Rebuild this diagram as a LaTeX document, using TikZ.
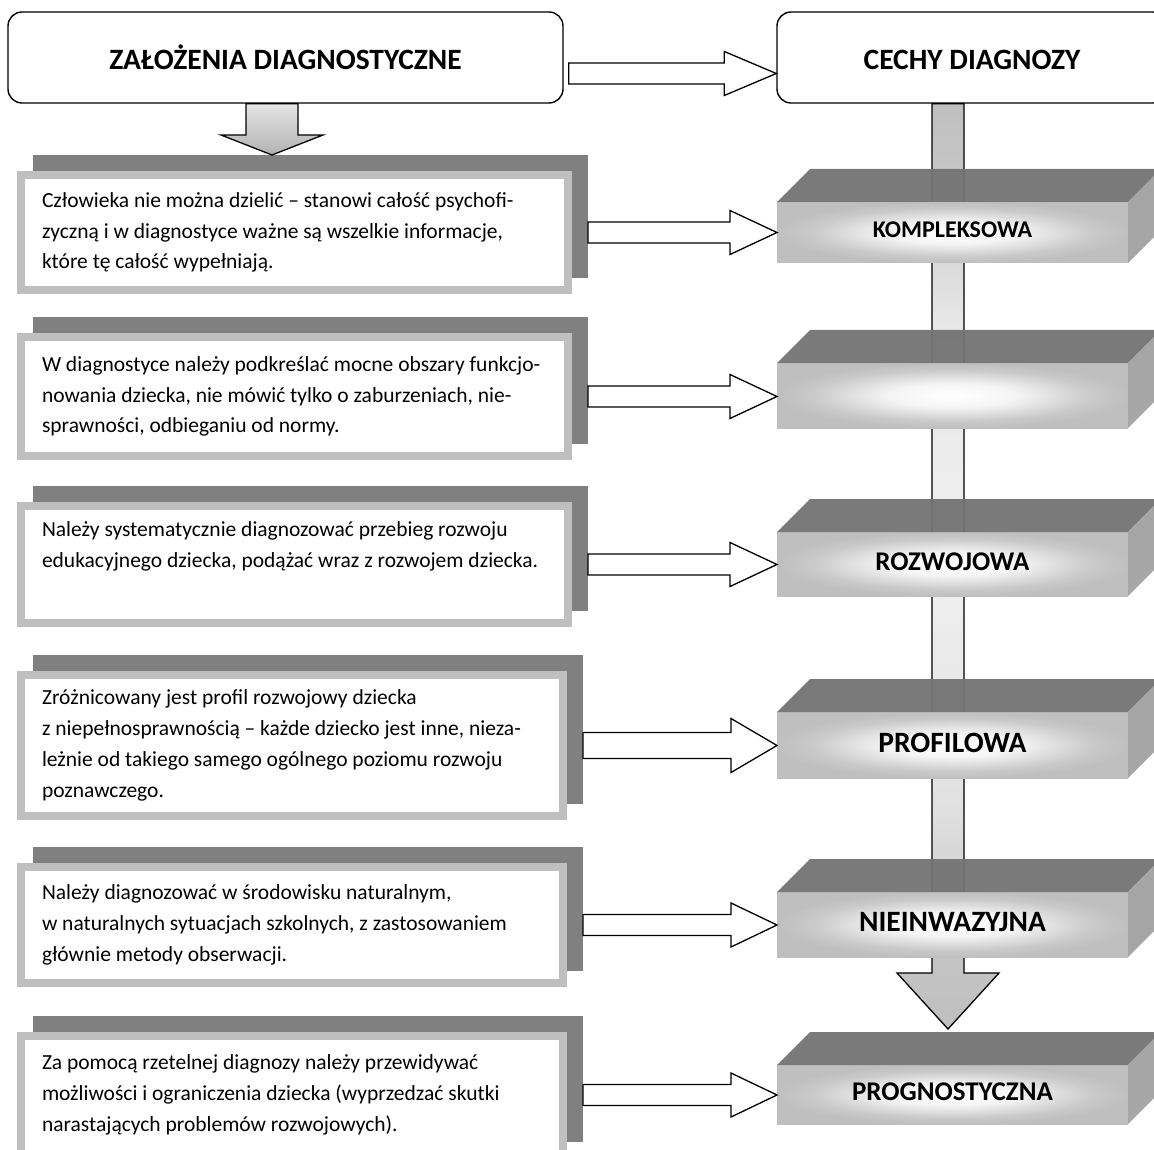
\documentclass[tikz,border=0pt]{standalone}
\usepackage{fontspec}
\setmainfont{Carlito}
\usetikzlibrary{calc, backgrounds}

\pgfdeclareradialshading{glow}{\pgfpoint{0bp}{0bp}}{color(0bp)=(white); color(9bp)=(black!4); color(20bp)=(black!21); color(25bp)=(black!25); color(50bp)=(black!25)}
\pgfdeclareverticalshading{shaftfill}{100bp}{color(0bp)=(black!25); color(25bp)=(black!25); color(29bp)=(black!23); color(37bp)=(black!12); color(50bp)=(black!6); color(63bp)=(black!9); color(71bp)=(black!22); color(75bp)=(black!25); color(100bp)=(black!25)}

\newcommand{\blockright}[5]{%
  \draw[blockarr] let \p1=(#1), \p2=(#2) in
    (\x1,\y1+#3) -- (\x2-#5,\y1+#3) -- (\x2-#5,\y1+#4) -- (\x2,\y1)
    -- (\x2-#5,\y1-#4) -- (\x2-#5,\y1-#3) -- (\x1,\y1-#3) -- cycle;}
\newcommand{\blockdown}[6]{%
  \path[#1] let \p1=(#2), \p2=(#3) in
    (\x1-#4,\y1) -- (\x1-#4,\y2+#6) -- (\x1-#5,\y2+#6) -- (\x1,\y2)
    -- (\x1+#5,\y2+#6) -- (\x1+#4,\y2+#6) -- (\x1+#4,\y1) -- cycle;}

\begin{document}
\begin{tikzpicture}[x=1pt, y=-1pt,
  hdr/.style={draw, line width=1.4pt, rounded corners=14pt, fill=white, minimum width=555pt,
              minimum height=91pt, text height=24pt, text depth=0pt,
              font=\bfseries\fontsize{29.5}{30}\selectfont},
  lbox/.style={draw=black!25, line width=8pt, fill=white, outer sep=4pt, inner xsep=21pt, inner ysep=0pt,
               align=flush left, text width=#1, font=\fontsize{21.5}{30.8}\selectfont},
  cube/.style={shade, shading=glow, minimum width=351pt, outer sep=0pt, inner sep=0pt, text depth=5pt,
               font=\bfseries\fontsize{#1}{#1}\selectfont},
  cube/.default=26,
  blockarr/.style={draw, line width=1.3pt, fill=white, line join=miter},
  bigarr/.style={draw, line width=1.3pt, line join=miter, shade},
  topface/.style={fill=black!55, fill opacity=0.95},
  sideface/.style={fill=black!35},
  shadowfill/.style={fill=black!50}
]
\useasboundingbox (0,0) rectangle (1154,1150);

\node[hdr] (hdrL) at (285.5,57.5) {ZAŁOŻENIA DIAGNOSTYCZNE};
\node[hdr, minimum width=390pt] (hdrR) at (972,57.5) {CECHY DIAGNOZY};

\node[lbox=505pt, minimum height=115pt] (t1) at (294.5,232.5) {Człowieka nie można dzielić – stanowi całość psychofi-\\
zyczną i w diagnostyce ważne są wszelkie informacje,\\
które tę całość wypełniają.};
\node[lbox=505pt, minimum height=119pt] (t2) at (294.5,396.5) {W diagnostyce należy podkreślać mocne obszary funkcjo-\\
nowania dziecka, nie mówić tylko o zaburzeniach, nie-\\
sprawności, odbieganiu od normy.};
\node[lbox=505pt, minimum height=117pt] (t3) at (294.5,564.5) {Należy systematycznie diagnozować przebieg rozwoju\\
edukacyjnego dziecka, podążać wraz z rozwojem dziecka.\\
\strut};
\node[lbox=500pt, minimum height=141pt] (t4) at (292,745.5) {Zróżnicowany jest profil rozwojowy dziecka\\
z niepełnosprawnością – każde dziecko jest inne, nieza-\\
leżnie od takiego samego ogólnego poziomu rozwoju\\
poznawczego.};
\node[lbox=500pt, minimum height=116pt] (t5) at (292,925) {Należy diagnozować w środowisku naturalnym,\\
w naturalnych sytuacjach szkolnych, z zastosowaniem\\
głównie metody obserwacji.};
\node[lbox=500pt, minimum height=118pt] (t6) at (292,1095) {Za pomocą rzetelnej diagnozy należy przewidywać\\
możliwości i ograniczenia dziecka (wyprzedzać skutki\\
narastających problemów rozwojowych).};

\node[cube=24, minimum height=61pt] (c1) at (952.5,232.5) {KOMPLEKSOWA};
\node[cube, minimum height=65pt] (c2) at (952.5,395.5) {};
\node[cube=27, minimum height=64pt] (c3) at (952.5,564) {ROZWOJOWA};
\node[cube=29.5, minimum height=66pt] (c4) at (952.5,745) {PROFILOWA};
\node[cube=29.5, minimum height=65pt] (c5) at (952.5,924.5) {NIEINWAZYJNA};
\node[cube=27, minimum height=59pt] (c6) at (952.5,1094.5) {PROGNOSTYCZNA};

\foreach \i in {1,...,6} {
  \fill[topface] (c\i.north west) -- ([xshift=33pt,yshift=33pt]c\i.north west)
    -- ([xshift=33pt,yshift=33pt]c\i.north east) -- (c\i.north east) -- cycle;
  \fill[sideface] (c\i.north east) -- ([xshift=33pt,yshift=33pt]c\i.north east)
    -- ([xshift=33pt,yshift=33pt]c\i.south east) -- (c\i.south east) -- cycle;
}

\coordinate (vtop) at ($(c1.center |- hdrR.south)+(-4.5pt,0pt)$);
\coordinate (vtip) at ($(c6.north)+(0pt,36pt)$);

\begin{scope}[on background layer]
\foreach \i in {1,...,6}
  \fill[shadowfill] ([xshift=16pt,yshift=16pt]t\i.south west) rectangle ([xshift=16pt,yshift=16pt]t\i.north east);
\blockdown{bigarr, shading=shaftfill}{vtop}{vtip}{16pt}{51pt}{56pt}
\end{scope}

\blockdown{bigarr, top color=black!10, bottom color=black!30}{[xshift=-13.5pt]hdrL.south}{[yshift=16pt]t1.north}{26pt}{51pt}{20pt}
\blockright{[xshift=5pt,yshift=-16pt]hdrL.east}{hdrR.west}{10.5pt}{22pt}{52pt}
\blockright{[xshift=16pt]t1.east}{c1.west}{10.5pt}{22pt}{47pt}
\blockright{[xshift=16pt]t2.east}{c2.west}{10.5pt}{22pt}{47pt}
\blockright{[xshift=16pt]t3.east}{c3.west}{10.5pt}{22pt}{47pt}
\blockright{[xshift=16pt]t4.east}{c4.west}{13pt}{27pt}{46pt}
\blockright{[xshift=16pt]t5.east}{c5.west}{10.5pt}{22pt}{46pt}
\blockright{[xshift=16pt]t6.east}{c6.west}{10.5pt}{22pt}{46pt}
\end{tikzpicture}
\end{document}
